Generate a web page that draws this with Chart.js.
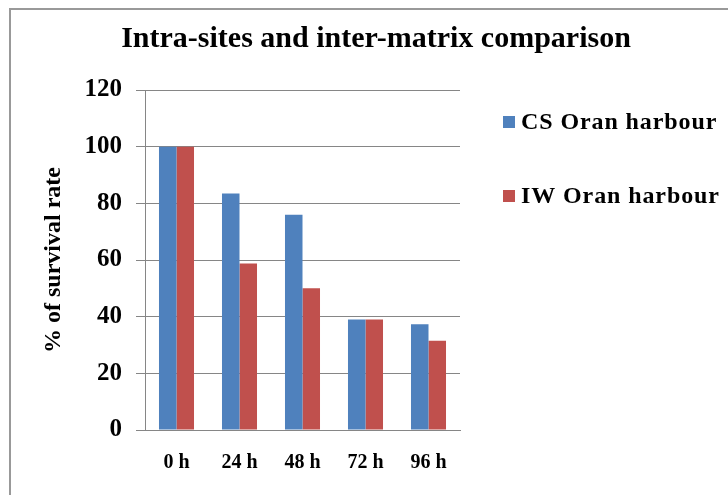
<!DOCTYPE html>
<html>
<head>
<meta charset="utf-8">
<script src="https://cdn.jsdelivr.net/npm/chart.js@4"></script>
<style>
  html, body { margin: 0; padding: 0; background: #fff; }
  #wrap { width: 728px; height: 495px; }
</style>
</head>
<body>
<div id="wrap"><canvas id="myChart" width="728" height="495"></canvas></div>
<script>
// data
const hours = ['0 h', '24 h', '48 h', '72 h', '96 h'];
const csOran = [100, 83.5, 76, 39, 37.3];
const iwOran = [100, 58.8, 50, 39, 31.5];
const seriesNames = ['CS Oran harbour', 'IW Oran harbour'];
const yTicks = [0, 20, 40, 60, 80, 100, 120];

const gridGray = '#868686';
const serif = '"Liberation Serif", "Times New Roman", serif';

// frame round the whole chart (only left and top edges are visible)
const framePlugin = {
    id: 'frame',
    beforeDraw(chart) {
        const ctx = chart.ctx;
        ctx.save();
        ctx.fillStyle = '#fff';
        ctx.fillRect(0, 0, chart.width, chart.height);
        ctx.strokeStyle = '#999';
        ctx.lineWidth = 2;
        ctx.strokeRect(10, 9, chart.width + 20, chart.height + 20);
        ctx.restore();
    }
};

// legend on the right, drawn by hand so it sits where the original has it
const sideLegend = {
    id: 'sideLegend',
    afterDraw(chart) {
        const ctx = chart.ctx;
        ctx.save();
        ctx.font = 'bold 24px ' + serif;
        ctx.letterSpacing = '0.9px';
        ctx.textBaseline = 'middle';
        chart.data.datasets.forEach((ds, i) => {
            const y = 122 + i * 74;
            ctx.fillStyle = ds.backgroundColor;
            ctx.fillRect(503, y - 6, 12, 12);
            ctx.fillStyle = '#000';
            ctx.fillText(ds.label, 521, y + 1);
        });
        ctx.restore();
    }
};

const ctx = document.getElementById('myChart').getContext('2d');
new Chart(ctx, {
    type: 'bar',
    data: {
        labels: hours,
        datasets: [{
            label: seriesNames[0],
            data: csOran,
            backgroundColor: '#4F81BD'
        }, {
            label: seriesNames[1],
            data: iwOran,
            backgroundColor: '#C0504D'
        }]
    },
    options: {
        responsive: false,
        animation: false,
        devicePixelRatio: 1,
        categoryPercentage: 0.556,
        barPercentage: 1.0,
        layout: {
            padding: { left: 24, right: 0, top: 0, bottom: 0 }
        },
        plugins: {
            legend: { display: false },
            tooltip: { enabled: false },
            title: {
                display: true,
                text: 'Intra-sites and inter-matrix comparison',
                color: '#000',
                font: { family: serif, size: 30, weight: 'bold' },
                padding: { top: 21.5, bottom: 32.5 }
            }
        },
        scales: {
            x: {
                grid: { display: false, drawTicks: false },
                border: { display: true, color: gridGray, width: 1 },
                ticks: {
                    color: '#000',
                    padding: 21,
                    font: { family: serif, size: 20, weight: 'bold' }
                },
                afterFit(scale) { scale.height = 65; }
            },
            y: {
                min: 0,
                max: 120,
                afterBuildTicks(scale) {
                    scale.ticks = yTicks.map(v => ({ value: v }));
                },
                grid: { color: gridGray, tickLength: 9 },
                border: { display: true, color: gridGray, width: 1 },
                ticks: {
                    color: '#000',
                    padding: 14,
                    font: { family: serif, size: 25, weight: 'bold' }
                },
                title: {
                    display: true,
                    text: '% of survival rate',
                    color: '#000',
                    font: { family: serif, size: 24, weight: 'bold' },
                    padding: { top: 15, bottom: 0 }
                },
                afterFit(scale) { scale.width = 121; }
            },
            // empty axis on the right keeps room for the legend
            side: {
                position: 'right',
                grid: { display: false, drawTicks: false },
                border: { display: false },
                ticks: { display: false },
                afterFit(scale) { scale.width = 268; }
            }
        }
    },
    plugins: [framePlugin, sideLegend]
});
</script>
</body>
</html>
